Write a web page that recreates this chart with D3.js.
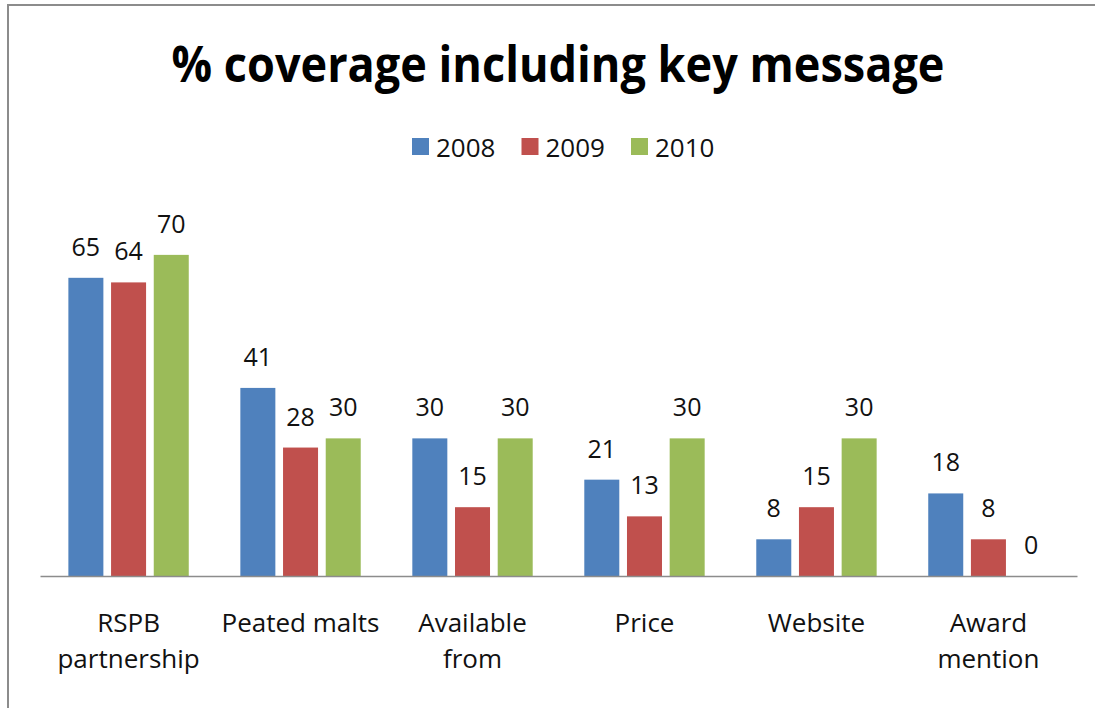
<!DOCTYPE html>
<html>
<head>
<meta charset="utf-8">
<script src="https://cdn.jsdelivr.net/npm/d3@7"></script>
<style>
  body { margin: 0; background: #fff; }
  svg { display: block; font-family: "Open Sans", sans-serif; }
</style>
</head>
<body>
<svg id="chart" width="1095" height="708"></svg>
<script>
var categories = [["RSPB", "partnership"], ["Peated malts"], ["Available", "from"], ["Price"], ["Website"], ["Award", "mention"]];
var years = ["2008", "2009", "2010"];
var values2008 = [65, 41, 30, 21, 8, 18];
var values2009 = [64, 28, 15, 13, 15, 8];
var values2010 = [70, 30, 30, 30, 30, 0];
var colors = ["#4F81BD", "#C0504D", "#9BBB59"];

var svg = d3.select('#chart');
var width = 1095;
var height = 708;
var margin = {top: 209, right: 18, bottom: 132, left: 40};

var series = [values2008, values2009, values2010];
var catKeys = categories.map(function(c) { return c.join(" "); });

// chart border (only top + left visible in the crop)
svg.append("path")
  .attr("d", "M8," + height + "V5H" + width)
  .attr("fill", "none")
  .attr("stroke", "#8c8c8c")
  .attr("stroke-width", 2);

// title
svg.append("text")
  .attr("x", 558)
  .attr("y", 82)
  .attr("text-anchor", "middle")
  .attr("font-size", "50px")
  .attr("font-weight", "bold")
  .attr("textLength", 773)
  .attr("lengthAdjust", "spacingAndGlyphs")
  .text("% coverage including key message");

var x0 = d3.scaleBand()
  .domain(catKeys)
  .range([margin.left, width - margin.right])
  .paddingInner(0.3)
  .paddingOuter(0.165);

var x1 = d3.scaleBand()
  .domain(years)
  .range([0, x0.bandwidth()])
  .paddingInner(0.18);

var y = d3.scaleLinear()
  .domain([0, 80])
  .range([height - margin.bottom, margin.top]);

var groups = svg.selectAll(".group")
  .data(catKeys)
  .enter().append("g")
  .attr("class", "group")
  .attr("transform", function(d) { return "translate(" + x0(d) + ",0)"; });

groups.selectAll("rect")
  .data(function(d, i) { return years.map(function(yr, j) { return {year: yr, value: series[j][i], color: colors[j]}; }); })
  .enter().append("rect")
  .attr("x", function(d) { return x1(d.year); })
  .attr("y", function(d) { return y(d.value); })
  .attr("width", x1.bandwidth())
  .attr("height", function(d) { return y(0) - y(d.value); })
  .style("fill", function(d) { return d.color; });

groups.selectAll(".val")
  .data(function(d, i) { return years.map(function(yr, j) { return {year: yr, value: series[j][i]}; }); })
  .enter().append("text")
  .attr("class", "val")
  .attr("x", function(d) { return x1(d.year) + x1.bandwidth() / 2; })
  .attr("y", function(d) { return y(d.value) - 22; })
  .attr("text-anchor", "middle")
  .attr("font-size", "25px")
  .attr("fill", "#111")
  .text(function(d) { return d.value; });

// x axis
var xAxis = svg.append("g")
  .attr("transform", "translate(0," + y(0) + ")")
  .call(d3.axisBottom(x0).tickSize(0).tickSizeOuter(0));

xAxis.select(".domain")
  .attr("stroke", "#8c8c8c")
  .attr("stroke-width", 1.5);

xAxis.selectAll(".tick text").each(function(d, i) {
  var t = d3.select(this);
  t.text(null)
    .attr("y", 0)
    .attr("dy", null)
    .attr("font-size", "26px")
    .attr("font-family", "'Open Sans', sans-serif")
    .attr("fill", "#111");
  categories[i].forEach(function(line, k) {
    t.append("tspan")
      .attr("x", 0)
      .attr("y", 56 + k * 36)
      .text(line);
  });
});

// legend
var legend = svg.append("g")
  .attr("transform", "translate(412,0)");

var items = legend.selectAll(".item")
  .data(years)
  .enter().append("g")
  .attr("class", "item")
  .attr("transform", function(d, i) { return "translate(" + (i * 109.5) + ",0)"; });

items.append("rect")
  .attr("x", 0)
  .attr("y", 138)
  .attr("width", 17)
  .attr("height", 17)
  .style("fill", function(d, i) { return colors[i]; });

items.append("text")
  .attr("x", 24)
  .attr("y", 157)
  .attr("font-size", "26px")
  .attr("fill", "#111")
  .text(function(d) { return d; });
</script>
</body>
</html>
